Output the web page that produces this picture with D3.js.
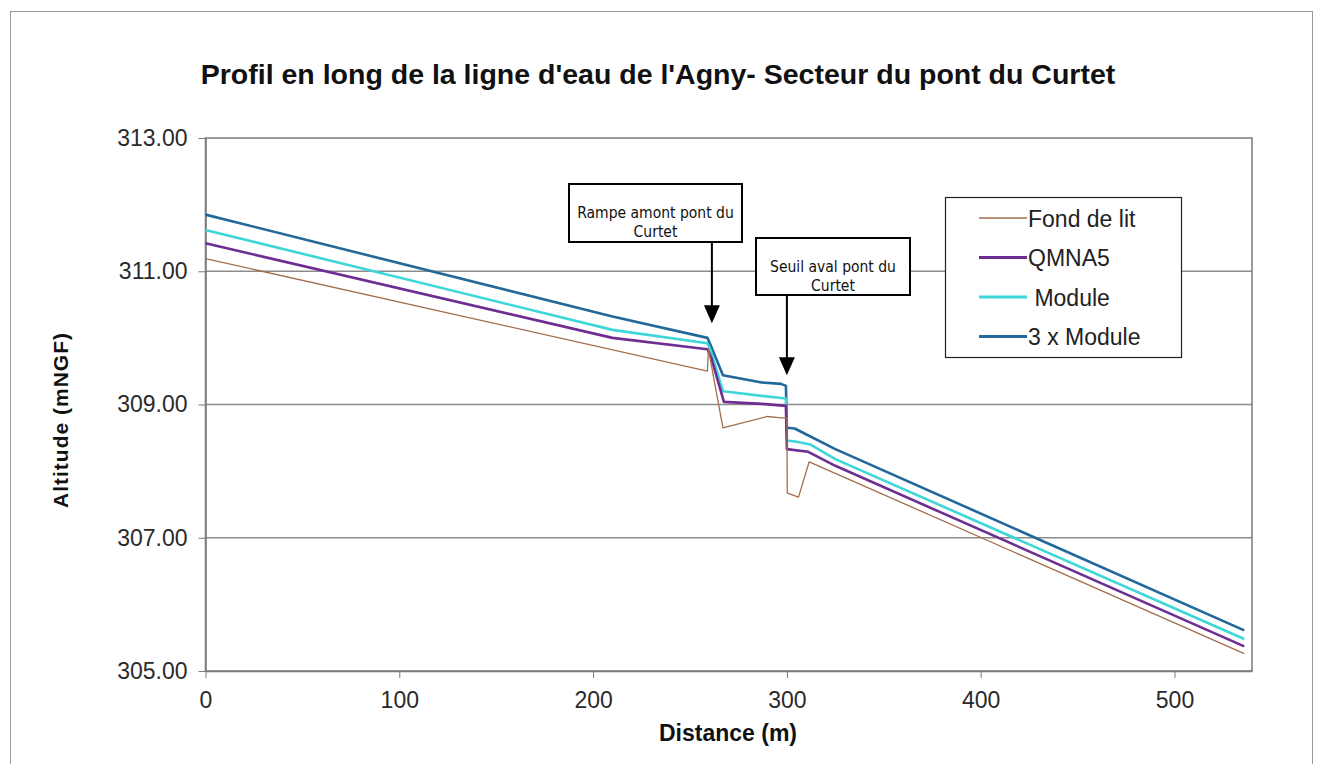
<!DOCTYPE html>
<html>
<head>
<meta charset="utf-8">
<script src="https://cdn.jsdelivr.net/npm/d3@7"></script>
<style>
  body { margin: 0; background: #ffffff; }
</style>
</head>
<body>
<div id="canvas"></div>
<script>
"use strict"

/* data: distance (m) and altitude (mNGF) */
let distFond = [0, 259, 259.5, 267, 290, 297, 300, 300.2, 306, 311.5, 536];
let altFond = [311.19, 309.50, 309.83, 308.65, 308.82, 308.80, 308.80, 307.67, 307.61, 308.14, 305.26];

let distQmna = [0, 210, 259, 261, 267.5, 287, 299.5, 300, 311, 325, 536];
let altQmna = [311.42, 310.00, 309.83, 309.70, 309.04, 309.01, 308.98, 308.33, 308.29, 308.08, 305.37];

let distModule = [0, 210, 259, 260.5, 267, 287, 299.5, 300, 305, 312, 325, 536];
let altModule = [311.62, 310.12, 309.92, 309.82, 309.20, 309.13, 309.09, 308.46, 308.44, 308.40, 308.18, 305.48];

let dist3Module = [0, 210, 259, 260.5, 267, 287, 297, 299.5, 300, 304, 325, 536];
let alt3Module = [311.85, 310.32, 310.00, 309.90, 309.44, 309.33, 309.31, 309.28, 308.65, 308.64, 308.33, 305.61];

let seriesNames = ["Fond de lit", "QMNA5", " Module", "3 x Module"];
let xTicks = [0, 100, 200, 300, 400, 500];
let yTicks = [305, 307, 309, 311, 313];

/* svg canvas */
let drawing = d3.select("#canvas")
    .append("svg")
    .attr("width", 1317)
    .attr("height", 764)
    .style("font-family", "Arial, 'Liberation Sans', sans-serif");

drawing.append("rect")
    .attr("width", 1317)
    .attr("height", 764)
    .attr("fill", "white");

/* outer chart border */
drawing.append("rect")
    .attr("x", 10.5)
    .attr("y", 11.5)
    .attr("width", 1302)
    .attr("height", 770)
    .attr("fill", "none")
    .attr("stroke", "#9a9a9a");

let x = d3.scaleLinear().domain([0, 540]).range([205.5, 1252]);
let y = d3.scaleLinear().domain([305, 313]).range([671, 138]);

/* gridlines */
drawing.append("g")
    .selectAll("line")
    .data(yTicks.slice(1, 4))
    .join("line")
    .attr("x1", x(0))
    .attr("x2", x(540))
    .attr("y1", d => y(d))
    .attr("y2", d => y(d))
    .attr("stroke", "#8c8c8c")
    .attr("stroke-width", 1.3);

/* plot area frame */
drawing.append("rect")
    .attr("x", x(0))
    .attr("y", y(313))
    .attr("width", x(540) - x(0))
    .attr("height", y(305) - y(313))
    .attr("fill", "none")
    .attr("stroke", "#7a7a7a")
    .attr("stroke-width", 1.5);

/* axes */
let xAxis = drawing.append("g")
    .attr("transform", "translate(0," + y(305) + ")")
    .call(d3.axisBottom(x).tickValues(xTicks).tickSize(7).tickSizeOuter(0).tickPadding(14));
let yAxis = drawing.append("g")
    .attr("transform", "translate(" + x(0) + ",0)")
    .call(d3.axisLeft(y).tickValues(yTicks).tickSize(7).tickSizeOuter(0).tickPadding(11)
        .tickFormat(d3.format(".2f")));

[xAxis, yAxis].forEach(function (ax) {
    ax.select(".domain").attr("stroke", "#7a7a7a").attr("stroke-width", 1.5);
    ax.selectAll(".tick line").attr("stroke", "#7a7a7a");
    ax.selectAll(".tick text")
        .attr("fill", "#2a2a2a")
        .style("font-size", "23px")
        .style("font-family", "Arial, 'Liberation Sans', sans-serif");
});

/* series lines */
let series = [
    {d: distFond, v: altFond, color: "#A26E4C", w: 1.3},
    {d: distQmna, v: altQmna, color: "#6E2E91", w: 2.6},
    {d: distModule, v: altModule, color: "#3ED6D8", w: 2.6},
    {d: dist3Module, v: alt3Module, color: "#22689A", w: 2.6}
];

let lineGen = d3.line()
    .x(p => x(p[0]))
    .y(p => y(p[1]));

series.slice().reverse().forEach(function (s) {
    drawing.append("path")
        .datum(d3.zip(s.d, s.v))
        .attr("d", lineGen)
        .attr("fill", "none")
        .attr("stroke", s.color)
        .attr("stroke-width", s.w)
        .attr("stroke-linejoin", "round");
});

/* title and axis titles */
drawing.append("text")
    .attr("x", 658)
    .attr("y", 84)
    .attr("text-anchor", "middle")
    .style("font-size", "28.5px")
    .style("font-weight", "bold")
    .attr("fill", "#111")
    .text("Profil en long de la ligne d'eau de l'Agny- Secteur du pont du Curtet");

drawing.append("text")
    .attr("x", 728)
    .attr("y", 741)
    .attr("text-anchor", "middle")
    .style("font-size", "23px")
    .style("font-weight", "bold")
    .attr("fill", "#111")
    .text("Distance (m)");

drawing.append("text")
    .attr("transform", "translate(68,420) rotate(-90)")
    .attr("text-anchor", "middle")
    .style("font-size", "21px")
    .style("font-weight", "bold")
    .style("letter-spacing", "1px")
    .attr("fill", "#111")
    .text("Altitude (mNGF)");

/* legend */
let legend = drawing.append("g");
legend.append("rect")
    .attr("x", 945.5)
    .attr("y", 197.5)
    .attr("width", 236)
    .attr("height", 160)
    .attr("fill", "white")
    .attr("stroke", "#222")
    .attr("stroke-width", 1.2);

seriesNames.forEach(function (name, i) {
    let ly = 218 + i * 39.5;
    legend.append("line")
        .attr("x1", 979)
        .attr("x2", 1027)
        .attr("y1", ly)
        .attr("y2", ly)
        .attr("stroke", series[i].color)
        .attr("stroke-width", i === 0 ? 1.3 : 3);
    legend.append("text")
        .attr("x", 1028)
        .attr("y", ly + 8.5)
        .style("font-size", "23px")
        .style("white-space", "pre")
        .attr("fill", "#222")
        .text(name);
});

/* annotation boxes with arrows */
let notes = [
    {lines: ["Rampe amont pont du", "Curtet"], bx: 569, by: 184, bw: 173, bh: 58, ax: 261.3, tip: 310.22},
    {lines: ["Seuil aval pont du", "Curtet"], bx: 756, by: 238, bw: 154, bh: 57, ax: 300, tip: 309.44}
];

notes.forEach(function (n) {
    drawing.append("line")
        .attr("x1", x(n.ax))
        .attr("x2", x(n.ax))
        .attr("y1", n.by + n.bh)
        .attr("y2", y(n.tip) - 16)
        .attr("stroke", "black")
        .attr("stroke-width", 2);
    drawing.append("path")
        .attr("d", "M" + (x(n.ax) - 8) + "," + (y(n.tip) - 18) + " L" + (x(n.ax) + 8) + "," + (y(n.tip) - 18) +
            " L" + x(n.ax) + "," + y(n.tip) + " Z")
        .attr("fill", "black");
    drawing.append("rect")
        .attr("x", n.bx)
        .attr("y", n.by)
        .attr("width", n.bw)
        .attr("height", n.bh)
        .attr("fill", "white")
        .attr("stroke", "black")
        .attr("stroke-width", 2);
    n.lines.forEach(function (t, j) {
        drawing.append("text")
            .attr("x", n.bx + n.bw / 2)
            .attr("y", n.by + 34 + j * 19)
            .attr("text-anchor", "middle")
            .style("font-family", "'DejaVu Sans Condensed', 'DejaVu Sans', sans-serif")
            .style("font-size", "15.5px")
            .attr("fill", "#111")
            .text(t);
    });
});
</script>
</body>
</html>
